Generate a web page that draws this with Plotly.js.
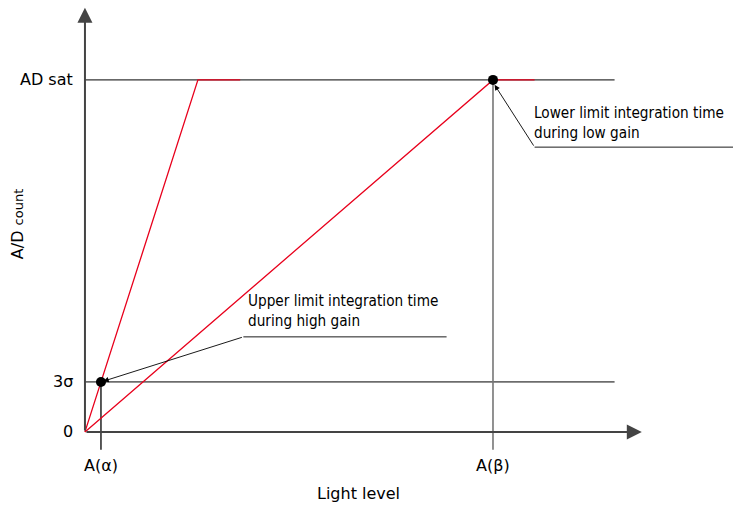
<!DOCTYPE html>
<html><head><meta charset="utf-8">
<script src="https://cdn.plot.ly/plotly-3.0.1.min.js"></script>
<style>html,body{margin:0;padding:0;background:#fff}</style>
</head><body><div id="chart" style="width:733px;height:509px"></div>
<script>
// Light-level positions (arbitrary units, A(α) = 1)
const lightAlpha = 1.0;
const lightBeta = 25.5;
const lightSatHigh = 7.06;     // high gain reaches saturation
const redEndHigh = 9.7;        // end of saturated high-gain segment
const redEndLow = 28.1;        // end of saturated low-gain segment
const refLineEnd = 33.1;       // end of horizontal reference lines
const xAxisEnd = 34.8;
// A/D counts (AD sat = 100)
const adSat = 100;
const noise3s = 14.2;
const yAxisEnd = 120.5;
const tickDrop = -5.1;

const highGainX = [0, lightSatHigh, redEndHigh];
const highGainY = [0, adSat, adSat];
const lowGainX = [0, lightBeta, redEndLow];
const lowGainY = [0, adSat, adSat];
const markerX = [lightAlpha, lightBeta];
const markerY = [noise3s, adSat];
const yTickLabels = ['AD sat', '3σ', '0'];
const yTickVals = [adSat, noise3s, 0];
const xTickLabels = ['A(α)', 'A(β)'];
const xTickVals = [lightAlpha, lightBeta];

const lab = {family: 'DejaVu Sans', size: 16, color: '#000'};
const note = {family: 'DejaVu Sans Condensed', size: 15.2, color: '#000'};

const traces = [
  // reference horizontal lines
  {x: [0, refLineEnd], y: [adSat, adSat], mode: 'lines', line: {color: '#000', width: 1}},
  {x: [0, refLineEnd], y: [noise3s, noise3s], mode: 'lines', line: {color: '#000', width: 1}},
  // vertical drop lines
  {x: [lightAlpha, lightAlpha], y: [noise3s, tickDrop], mode: 'lines', line: {color: '#000', width: 1.3}},
  {x: [lightBeta, lightBeta], y: [adSat, tickDrop], mode: 'lines', line: {color: '#777', width: 1.6}},
  // red response curves
  {x: highGainX, y: highGainY, mode: 'lines', line: {color: '#e8001c', width: 1.3}},
  {x: lowGainX, y: lowGainY, mode: 'lines', line: {color: '#e8001c', width: 1.3}},
  // dots
  {x: markerX, y: markerY, mode: 'markers', marker: {color: '#000', size: 10}},
  // annotation underlines
  {x: [28.1, 40.6], y: [80.9, 80.9], mode: 'lines', line: {color: '#000', width: 0.9}},
  {x: [9.9, 22.6], y: [27.0, 27.0], mode: 'lines', line: {color: '#000', width: 0.9}}
];

const annotations = [];
yTickVals.forEach((v, i) => annotations.push({x: -0.6, y: v, xref: 'x', yref: 'y', text: yTickLabels[i],
  showarrow: false, xanchor: 'right', yanchor: 'middle', font: lab}));
xTickVals.forEach((v, i) => annotations.push({x: v, y: -9.4, xref: 'x', yref: 'y', text: xTickLabels[i],
  showarrow: false, xanchor: 'center', yanchor: 'middle', font: lab}));
// axis arrows
annotations.push({x: xAxisEnd, y: 0, ax: 0, ay: 0, axref: 'x', ayref: 'y', xref: 'x', yref: 'y', text: '',
  showarrow: true, arrowhead: 2, arrowsize: 1.5, arrowwidth: 2, arrowcolor: '#444'});
annotations.push({x: 0, y: yAxisEnd, ax: 0, ay: 0, axref: 'x', ayref: 'y', xref: 'x', yref: 'y', text: '',
  showarrow: true, arrowhead: 2, arrowsize: 1.5, arrowwidth: 2, arrowcolor: '#444'});
// callout arrows
annotations.push({x: 25.6, y: 98.6, ax: 28.1, ay: 80.9, axref: 'x', ayref: 'y', xref: 'x', yref: 'y', text: '',
  showarrow: true, arrowhead: 2, arrowsize: 1.2, arrowwidth: 0.9, arrowcolor: '#000'});
annotations.push({x: 1.15, y: 14.4, ax: 9.9, ay: 27.0, axref: 'x', ayref: 'y', xref: 'x', yref: 'y', text: '',
  showarrow: true, arrowhead: 2, arrowsize: 1.2, arrowwidth: 0.9, arrowcolor: '#000'});
// callout texts
annotations.push({x: 28.0, y: 87.9, xref: 'x', yref: 'y', text: 'Lower limit integration time<br>during low gain',
  showarrow: false, xanchor: 'left', yanchor: 'middle', align: 'left', font: note, borderpad: 0});
annotations.push({x: 10.1, y: 34.4, xref: 'x', yref: 'y', text: 'Upper limit integration time<br>during high gain',
  showarrow: false, xanchor: 'left', yanchor: 'middle', align: 'left', font: note, borderpad: 0});
// axis titles
annotations.push({x: 17.1, y: -17.6, xref: 'x', yref: 'y', text: 'Light level', showarrow: false,
  xanchor: 'center', yanchor: 'middle', font: lab});
annotations.push({x: -4.25, y: 59.0, xref: 'x', yref: 'y', text: 'A/D <span style="font-size:13px">count</span>',
  textangle: -90, showarrow: false, xanchor: 'center', yanchor: 'middle', font: lab});

const layout = {
  width: 733, height: 509,
  margin: {l: 0, r: 0, t: 0, b: 0},
  paper_bgcolor: '#fff', plot_bgcolor: '#fff',
  showlegend: false,
  xaxis: {range: [-5.31, 40.5], visible: false, fixedrange: true},
  yaxis: {range: [-21.9, 122.7], visible: false, fixedrange: true},
  annotations: annotations
};
Plotly.newPlot('chart', traces, layout, {staticPlot: true});
</script></body></html>
